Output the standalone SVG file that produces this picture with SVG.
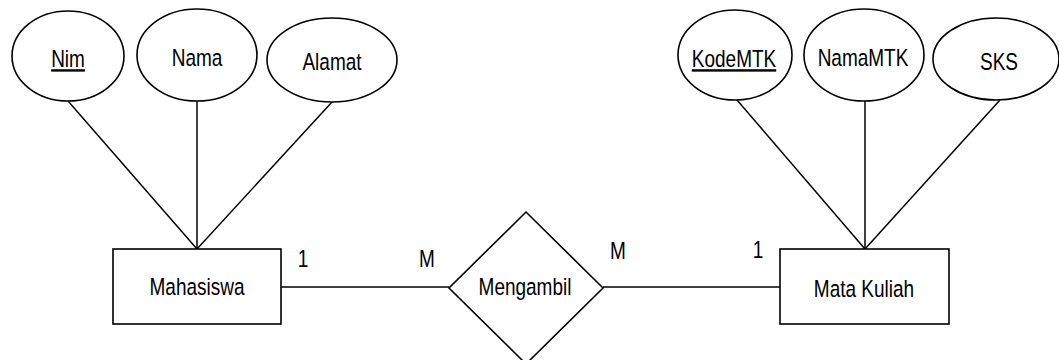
<svg xmlns="http://www.w3.org/2000/svg" width="1059" height="360" viewBox="0 0 1059 360">
  <style>
    .shape { fill: #ffffff; stroke: #000000; stroke-width: 1.6; }
    .link { stroke: #000000; stroke-width: 1.5; fill: none; }
    .lbl { font-family: "Liberation Sans", Arial, sans-serif; font-size: 19px; fill: #000000; text-anchor: middle; }
    .key { text-decoration: underline; }
  </style>
  <rect width="1059" height="360" fill="#ffffff"/>

  <!-- connectors -->
  <g id="connectors">
    <line class="link" x1="68" y1="101" x2="197" y2="249"/>
    <line class="link" x1="197" y1="101" x2="197" y2="249"/>
    <line class="link" x1="332" y1="102" x2="197" y2="249"/>
    <line class="link" x1="737" y1="100" x2="865" y2="249"/>
    <line class="link" x1="865" y1="101" x2="865" y2="249"/>
    <line class="link" x1="1000" y1="100" x2="865" y2="249"/>
    <line class="link" x1="281" y1="287" x2="449" y2="287"/>
    <line class="link" x1="603" y1="287" x2="783" y2="287"/>
    <text class="lbl" transform="translate(303,267) scale(1,1.27)">1</text>
    <text class="lbl" transform="translate(427,267) scale(1,1.27)">M</text>
    <text class="lbl" transform="translate(618,259) scale(1,1.27)">M</text>
    <text class="lbl" transform="translate(758,258) scale(1,1.27)">1</text>
  </g>

  <!-- attributes of Mahasiswa -->
  <g id="attr-nim">
    <ellipse class="shape" cx="68" cy="56" rx="56" ry="45"/>
    <text class="lbl key" transform="translate(68,67) scale(1,1.27)">Nim</text>
  </g>
  <g id="attr-nama">
    <ellipse class="shape" cx="197" cy="55" rx="60" ry="46"/>
    <text class="lbl" transform="translate(197,66) scale(1,1.27)">Nama</text>
  </g>
  <g id="attr-alamat">
    <ellipse class="shape" cx="332" cy="60" rx="65" ry="42"/>
    <text class="lbl" transform="translate(332,70) scale(1,1.27)">Alamat</text>
  </g>

  <!-- attributes of Mata Kuliah -->
  <g id="attr-kodemtk">
    <ellipse class="shape" cx="735" cy="55" rx="57" ry="45"/>
    <text class="lbl key" transform="translate(734,67) scale(1,1.27)">KodeMTK</text>
  </g>
  <g id="attr-namamtk">
    <ellipse class="shape" cx="864" cy="55" rx="60" ry="46"/>
    <text class="lbl" transform="translate(863,66) scale(1,1.27)">NamaMTK</text>
  </g>
  <g id="attr-sks">
    <ellipse class="shape" cx="996" cy="59" rx="63" ry="41"/>
    <text class="lbl" transform="translate(999,70) scale(1,1.27)">SKS</text>
  </g>

  <!-- entities -->
  <g id="entity-mahasiswa">
    <rect class="shape" x="113" y="249" width="168" height="75"/>
    <text class="lbl" transform="translate(197,295) scale(1,1.27)">Mahasiswa</text>
  </g>
  <g id="entity-matakuliah">
    <rect class="shape" x="780" y="249" width="169" height="75"/>
    <text class="lbl" transform="translate(864,297) scale(1,1.27)">Mata Kuliah</text>
  </g>

  <!-- relationship -->
  <g id="rel-mengambil">
    <polygon class="shape" points="526,212 603,288 526,364 449,288"/>
    <text class="lbl" transform="translate(525,295) scale(1,1.27)">Mengambil</text>
  </g>
</svg>
